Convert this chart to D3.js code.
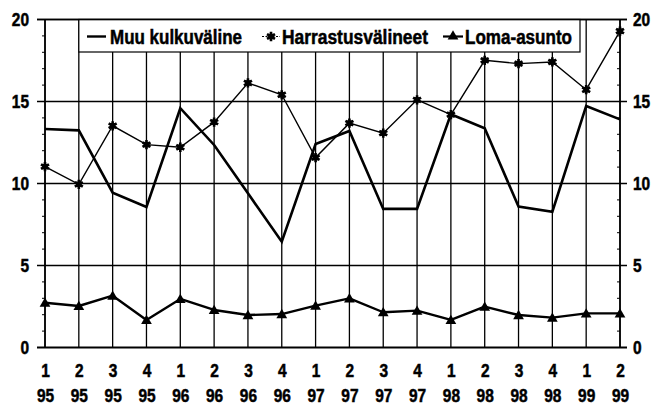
<!DOCTYPE html>
<html>
<head>
<meta charset="utf-8">
<script src="https://cdn.jsdelivr.net/npm/d3@7"></script>
<style>
  html, body { margin: 0; padding: 0; background: #fff; }
  svg { display: block; }
  text { font-family: "Liberation Sans", Arial, sans-serif; font-weight: bold; fill: #000; stroke: #000; stroke-width: 0.5px; }
</style>
</head>
<body>
<script>
// ---- Data ----
const quarters = ["1","2","3","4","1","2","3","4","1","2","3","4","1","2","3","4","1","2"];
const years    = ["95","95","95","95","96","96","96","96","97","97","97","97","98","98","98","98","99","99"];
const categories = quarters.map((q, i) => q + "/" + years[i]);

const muuKulkuvaline   = [13.32, 13.24, 9.44, 8.57, 14.59, 12.35, 9.4, 6.45, 12.41, 13.2, 8.45, 8.45, 14.22, 13.37, 8.59, 8.28, 14.73, 13.91];
const harrastusvalineet = [11.03, 9.95, 13.52, 12.37, 12.21, 13.74, 16.13, 15.41, 11.58, 13.68, 13.07, 15.1, 14.2, 17.51, 17.31, 17.41, 15.72, 19.29];
const lomaAsunto       = [2.73, 2.53, 3.16, 1.68, 2.96, 2.29, 1.98, 2.04, 2.55, 3.0, 2.15, 2.25, 1.68, 2.49, 1.98, 1.82, 2.08, 2.08];

const seriesNames = ["Muu kulkuväline", "Harrastusvälineet", "Loma-asunto"];
const majorTicks = [0, 5, 10, 15, 20];
const minorTicks = d3.range(0, 21, 1);

// ---- Layout ----
const W = 652, H = 406;
const x0 = 45, x1 = 620, yTop = 19.5, yBot = 347.5;
const digitW = 8.6; // condensed digit width

const svg = d3.select("body").append("svg").attr("width", W).attr("height", H);
svg.append("rect").attr("width", W).attr("height", H).attr("fill", "#fff");

const x = d3.scalePoint().domain(categories).range([x0, x1]);
const y = d3.scaleLinear().domain([0, 20]).range([yBot, yTop]);

function condense(sel) {
  sel.attr("textLength", function() { return this.textContent.length * digitW; })
     .attr("lengthAdjust", "spacingAndGlyphs");
}

// Vertical grid lines
svg.append("g").selectAll("line").data(categories).join("line")
  .attr("x1", d => x(d)).attr("x2", d => x(d))
  .attr("y1", y(0)).attr("y2", y(20))
  .attr("stroke", "#000").attr("stroke-width", 1.3);

// Horizontal grid lines (with tick extensions)
svg.append("g").selectAll("line").data(majorTicks).join("line")
  .attr("x1", x0 - 8).attr("x2", x1 + 7)
  .attr("y1", d => y(d)).attr("y2", d => y(d))
  .attr("stroke", "#000").attr("stroke-width", d => d === 0 ? 1.8 : 1.5);

// Minor ticks
const minors = minorTicks.filter(v => v % 5 !== 0);
svg.append("g").selectAll("line").data(minors).join("line")
  .attr("x1", x0 - 3).attr("x2", x0).attr("y1", d => y(d)).attr("y2", d => y(d))
  .attr("stroke", "#000").attr("stroke-width", 1);
svg.append("g").selectAll("line").data(minors).join("line")
  .attr("x1", x1 - 3).attr("x2", x1).attr("y1", d => y(d)).attr("y2", d => y(d))
  .attr("stroke", "#000").attr("stroke-width", 1);

// Left axis labels via d3 axis
const axL = svg.append("g").attr("transform", `translate(${x0 - 8},0)`)
  .call(d3.axisLeft(y).tickValues(majorTicks).tickSize(0).tickPadding(8).tickFormat(d3.format("d")));
axL.select(".domain").remove();
axL.selectAll("text").attr("font-size", 18).attr("font-family", null).attr("dy", "0.36em").call(condense);

const axR = svg.append("g").attr("transform", `translate(${x1 + 7},0)`)
  .call(d3.axisRight(y).tickValues(majorTicks).tickSize(0).tickPadding(6).tickFormat(d3.format("d")));
axR.select(".domain").remove();
axR.selectAll("text").attr("font-size", 18).attr("font-family", null).attr("dy", "0.36em").call(condense);

// Left and right axis lines
svg.append("line").attr("x1", x0).attr("x2", x0).attr("y1", y(0)).attr("y2", y(20)).attr("stroke", "#000").attr("stroke-width", 1.6);
svg.append("line").attr("x1", x1).attr("x2", x1).attr("y1", y(0)).attr("y2", y(20)).attr("stroke", "#000").attr("stroke-width", 1.6);

// Bottom axis labels (two rows)
const axB = svg.append("g").attr("transform", `translate(0,${yBot})`)
  .call(d3.axisBottom(x).tickSize(0).tickPadding(0).tickFormat(() => ""));
axB.select(".domain").remove();
axB.selectAll(".tick").each(function(d, i) {
  const g = d3.select(this);
  g.append("text").attr("y", 29.5).attr("text-anchor", "middle").attr("font-size", 18).attr("font-family", null).text(quarters[i]).call(condense);
  g.append("text").attr("y", 54.5).attr("text-anchor", "middle").attr("font-size", 18).attr("font-family", null).text(years[i]).call(condense);
});

// Lines
const line = d3.line().x((d, i) => x(categories[i])).y(d => y(d));

svg.append("path").datum(harrastusvalineet).attr("d", line)
  .attr("fill", "none").attr("stroke", "#000").attr("stroke-width", 1.4);
svg.append("path").datum(lomaAsunto).attr("d", line)
  .attr("fill", "none").attr("stroke", "#000").attr("stroke-width", 2.4).attr("stroke-linejoin", "round");
svg.append("path").datum(muuKulkuvaline).attr("d", line)
  .attr("fill", "none").attr("stroke", "#000").attr("stroke-width", 2.6).attr("stroke-linejoin", "miter");

// Markers
function starMarker(sel) {
  sel.append("path").attr("d", d3.symbol(d3.symbolAsterisk, 60)()).attr("stroke", "#000").attr("stroke-width", 2.6).attr("fill", "none");
  sel.append("path").attr("d", d3.symbol(d3.symbolSquare, 30)()).attr("fill", "#000");
}
function triMarker(sel) {
  sel.append("path").attr("d", d3.symbol(d3.symbolTriangle, 50)()).attr("fill", "#000");
}

svg.append("g").selectAll("g").data(harrastusvalineet).join("g")
  .attr("transform", (d, i) => `translate(${x(categories[i])},${y(d)})`)
  .call(starMarker);
svg.append("g").selectAll("g").data(lomaAsunto).join("g")
  .attr("transform", (d, i) => `translate(${x(categories[i])},${y(d) + 1})`)
  .call(triMarker);

// Legend
const legX = x(categories[1]), legR = 580, legB = 52;
svg.append("rect").attr("x", legX).attr("y", yTop).attr("width", legR - legX).attr("height", legB - yTop)
  .attr("fill", "#fff").attr("stroke", "#000").attr("stroke-width", 1.2);
svg.append("line").attr("x1", x0 - 8).attr("x2", x1 + 7).attr("y1", yTop).attr("y2", yTop).attr("stroke", "#000").attr("stroke-width", 1.6);

const legY = 36.5;
const leg = svg.append("g");
const legTextLen = [132, 146, 107];
// item 1
leg.append("line").attr("x1", 87).attr("x2", 106).attr("y1", legY).attr("y2", legY).attr("stroke", "#000").attr("stroke-width", 2.4);
leg.append("text").attr("x", 110).attr("y", legY + 7).attr("font-size", 19.5).attr("textLength", legTextLen[0]).attr("lengthAdjust", "spacingAndGlyphs").text(seriesNames[0]);
// item 2
leg.append("line").attr("x1", 262).attr("x2", 280).attr("y1", legY).attr("y2", legY).attr("stroke", "#000").attr("stroke-width", 1.2).attr("stroke-dasharray", "2,1.5");
leg.append("g").attr("transform", `translate(271,${legY})`).call(starMarker);
leg.append("text").attr("x", 282).attr("y", legY + 7).attr("font-size", 19.5).attr("textLength", legTextLen[1]).attr("lengthAdjust", "spacingAndGlyphs").text(seriesNames[1]);
// item 3
leg.append("line").attr("x1", 443).attr("x2", 463).attr("y1", legY).attr("y2", legY).attr("stroke", "#000").attr("stroke-width", 2.2);
leg.append("g").attr("transform", `translate(453,${legY})`).call(triMarker);
leg.append("text").attr("x", 465).attr("y", legY + 7).attr("font-size", 19.5).attr("textLength", legTextLen[2]).attr("lengthAdjust", "spacingAndGlyphs").text(seriesNames[2]);
</script>
</body>
</html>
